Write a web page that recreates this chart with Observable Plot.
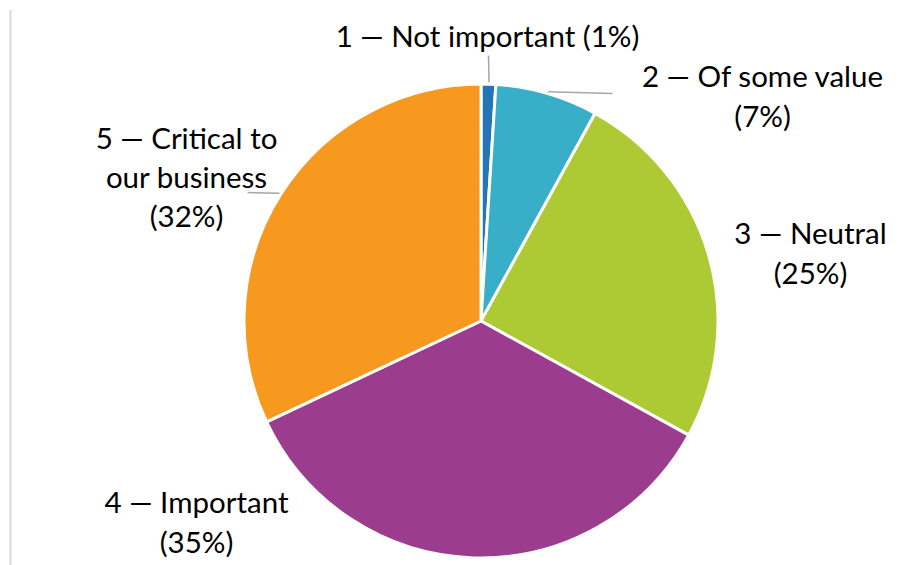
<!DOCTYPE html>
<html><head><meta charset="utf-8">
<script src="https://cdn.jsdelivr.net/npm/d3@7"></script>
<script src="https://cdn.jsdelivr.net/npm/@observablehq/plot@0.6"></script>
<style>body{margin:0;background:#fff;overflow:hidden}</style>
</head><body><div id="chart"></div>
<script>
// ---- data ----
const categories = ["1 — Not important", "2 — Of some value", "3 — Neutral", "4 — Important", "5 — Critical to our business"];
const shares = [1, 7, 25, 35, 32];
const labels = ["1 — Not important (1%)", "2 — Of some value\n(7%)", "3 — Neutral\n(25%)", "4 — Important\n(35%)", "5 — Critical to\nour business\n(32%)"];
const colors = ["#2475b8", "#38aec8", "#adca34", "#9c3c8e", "#f7991f"];

// ---- layout (pixels) ----
const W = 915, H = 565, CX = 481, CY = 321, R = 237;
const labelPos = [[487, 34], [762, 94], [810, 251], [196, 520], [186, 175]];
const leaderEnd = [[488, 55], [612, 93], null, null, [247, 192]];

const ux = px => (px - CX) / R, uy = py => (CY - py) / R;

const rows = categories.map((c, i) => ({category: c, share: shares[i], color: colors[i], label: labels[i]}));
const pie = d3.pie().sort(null).value(d => d.share)(rows);

const labelRows = rows.map((d, i) => ({...d, lx: ux(labelPos[i][0]), ly: uy(labelPos[i][1])}));
const leaderRows = [];
pie.forEach((a, i) => {
  if (!leaderEnd[i]) return;
  const mid = (a.startAngle + a.endAngle) / 2;
  leaderRows.push({x1: 1.01 * Math.sin(mid), y1: 1.01 * Math.cos(mid), x2: ux(leaderEnd[i][0]), y2: uy(leaderEnd[i][1])});
});

function pieMark(index, scales) {
  const sx = scales && scales.x ? scales.x : (v => CX + v * R);
  const sy = scales && scales.y ? scales.y : (v => CY - v * R);
  const x0 = sx(0), y0 = sy(0), r = sx(1) - sx(0);
  const arc = d3.arc().innerRadius(0).outerRadius(r);
  const g = d3.create("svg:g").attr("transform", `translate(${x0},${y0})`);
  g.selectAll("path").data(pie).join("path")
    .attr("d", arc)
    .attr("fill", d => d.data.color)
    .attr("stroke", "#fff")
    .attr("stroke-width", 3)
    .attr("stroke-linejoin", "round");
  return g.node();
}

const chart = Plot.plot({
  width: W, height: H,
  margin: 0,
  style: {background: "#fff", fontFamily: "Lato, sans-serif"},
  x: {domain: [ux(0), ux(W)], range: [0, W], axis: null},
  y: {domain: [uy(0), uy(H)], range: [0, H], axis: null},
  marks: [
    Plot.ruleX([ux(10)], {y1: uy(10), y2: uy(H), stroke: "#d9d9d9", strokeWidth: 2}),
    pieMark,
    Plot.link(leaderRows, {x1: "x1", y1: "y1", x2: "x2", y2: "y2", stroke: "#a6a6a6", strokeWidth: 1.5}),
    Plot.text(labelRows, {x: "lx", y: "ly", text: "label", fontSize: 29.5, lineHeight: 1.33, fill: "#000", fontFamily: "Lato, sans-serif"})
  ]
});
document.getElementById("chart").appendChild(chart);
</script>
</body></html>
